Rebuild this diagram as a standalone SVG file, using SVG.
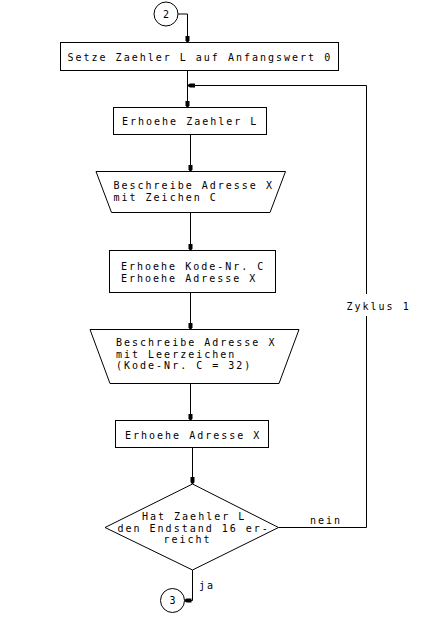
<svg xmlns="http://www.w3.org/2000/svg" width="421" height="632" viewBox="0 0 421 632">
<style>
.s{fill:#fff;stroke:#000;stroke-width:1}
.c{fill:none;stroke:#000;stroke-width:1}
.t{font-family:"DejaVu Sans Mono","Liberation Mono",monospace;font-size:10px;letter-spacing:2px;fill:#000}
.n{font-family:"DejaVu Sans Mono","Liberation Mono",monospace;font-size:10px;fill:#000}
</style>
<defs>
<marker id="ah" viewBox="0 -3 8 6" refX="7" refY="0" markerWidth="8" markerHeight="6" markerUnits="userSpaceOnUse" orient="auto">
<path d="M0,-2 H5 L7,-0.7 V0.7 L5,2 H0 Z" fill="#000"/>
</marker>
</defs>
<rect width="421" height="632" fill="#fff"/>
<g id="connectors">
<path class="c" d="M178,14 H187.5 V42.5" marker-end="url(#ah)"/>
<path class="c" d="M187.5,70.5 V107.5" marker-end="url(#ah)"/>
<path class="c" d="M278.5,527.5 H366.5 V316 M366.5,294 V85.5 H188" marker-end="url(#ah)"/>
<path class="c" d="M190.5,134.5 V171.5" marker-end="url(#ah)"/>
<path class="c" d="M190.5,212.5 V250.5" marker-end="url(#ah)"/>
<path class="c" d="M190.5,292.5 V329.5" marker-end="url(#ah)"/>
<path class="c" d="M190.5,383.5 V420.5" marker-end="url(#ah)"/>
<path class="c" d="M192.5,447.5 V484" marker-end="url(#ah)"/>
<path class="c" d="M192.5,570 V600.5 H184.5" marker-end="url(#ah)"/>
<text class="t" x="346.5" y="310">Zyklus 1</text>
<text class="t" x="310" y="524">nein</text>
<text class="t" x="199" y="589">ja</text>
</g>
<g id="start">
<circle class="s" cx="166" cy="14" r="12"/>
<text class="n" x="163" y="17.5">2</text>
</g>
<g id="init">
<rect class="s" x="60.5" y="42.5" width="278" height="28"/>
<text class="t" x="67.5" y="60.5">Setze Zaehler L auf Anfangswert 0</text>
</g>
<g id="incL">
<rect class="s" x="113.5" y="107.5" width="153" height="27"/>
<text class="t" x="122" y="125">Erhoehe Zaehler L</text>
</g>
<g id="writeC">
<polygon class="s" points="96,171.5 285.5,171.5 270,212.5 111.5,212.5"/>
<text class="t" x="113.5" y="189">Beschreibe Adresse X</text>
<text class="t" x="113.5" y="200.7">mit Zeichen C</text>
</g>
<g id="incCX">
<rect class="s" x="109.5" y="250.5" width="166" height="42"/>
<text class="t" x="121" y="270">Erhoehe Kode-Nr. C</text>
<text class="t" x="121" y="281.7">Erhoehe Adresse X</text>
</g>
<g id="writeSpace">
<polygon class="s" points="90,329.5 299,329.5 279,383.5 110,383.5"/>
<text class="t" x="116" y="346">Beschreibe Adresse X</text>
<text class="t" x="116" y="357.7">mit Leerzeichen</text>
<text class="t" x="116" y="369.3">(Kode-Nr. C = 32)</text>
</g>
<g id="incX">
<rect class="s" x="115.5" y="420.5" width="153" height="27"/>
<text class="t" x="125" y="439">Erhoehe Adresse X</text>
</g>
<g id="decision">
<polygon class="s" points="192.5,484 278.5,527.5 192.5,570 105,527.5"/>
<text class="t" x="142" y="520">Hat Zaehler L</text>
<text class="t" x="117.5" y="531.7">den Endstand 16 er-</text>
<text class="t" x="163.5" y="543.3">reicht</text>
</g>
<g id="end">
<circle class="s" cx="172.5" cy="600.5" r="12"/>
<text class="n" x="169.5" y="604">3</text>
</g>
</svg>
